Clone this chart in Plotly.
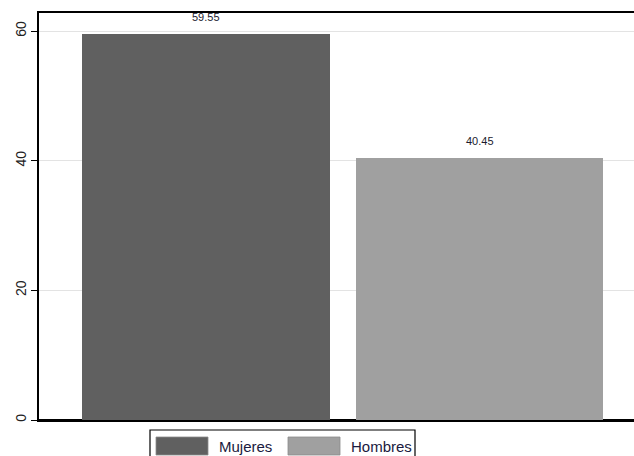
import plotly.graph_objects as go

categories = ["Mujeres", "Hombres"]
values = [59.55, 40.45]
value_labels = ["59.55", "40.45"]
colors = ["#606060", "#a0a0a0"]
y_ticks = [0, 20, 40, 60]

W, H = 634, 456
PL, PT, PB = 39, 13, 420  # plot left / top / bottom in window pixels
PW, PH = W - PL, PB - PT

def px_x(x):
    return (x - PL) / PW

def px_y(y):
    return (PB - y) / PH

fig = go.Figure()
for i, (cat, v) in enumerate(zip(categories, values)):
    fig.add_trace(go.Bar(x=[i], y=[v], name=cat, width=0.905,
                         marker=dict(color=colors[i], line=dict(width=0)),
                         showlegend=False, hoverinfo="skip"))
    fig.add_annotation(x=i, y=v, text=value_labels[i], showarrow=False,
                       yanchor="bottom", yshift=9,
                       font=dict(family="Liberation Sans, Arial", size=11, color="#1a1a2e"))

fig.update_layout(
    width=W, height=H,
    margin=dict(l=PL, r=0, t=PT, b=H - PB, autoexpand=False),
    plot_bgcolor="white", paper_bgcolor="white",
    xaxis=dict(range=[-0.608, 1.564], showticklabels=False, ticks="",
               showgrid=False, showline=True, linecolor="black", linewidth=1.5,
               mirror=True, zeroline=False, automargin=False),
    yaxis=dict(range=[0, 62.8], tickvals=y_ticks, ticktext=[str(t) for t in y_ticks],
               tickangle=-90, ticks="outside", ticklen=6, tickcolor="black",
               showline=True, linecolor="black", linewidth=1.5,
               gridcolor="#e3e3e3", gridwidth=1, automargin=False,
               zeroline=True, zerolinecolor="black", zerolinewidth=2.5,
               tickfont=dict(family="Liberation Sans, Arial", size=14, color="#222222")),
    bargap=0,
)

# custom legend (Stata style)
fig.add_shape(type="rect", xref="paper", yref="paper",
              x0=px_x(150), x1=px_x(415), y0=px_y(470), y1=px_y(430),
              line=dict(color="black", width=1.2), fillcolor="white", layer="above")
legend_swatches = [(156, 208, 217), (288, 340, 349)]
for (sx0, sx1, tx), cat, col in zip(legend_swatches, categories, colors):
    fig.add_shape(type="rect", xref="paper", yref="paper",
                  x0=px_x(sx0), x1=px_x(sx1), y0=px_y(455), y1=px_y(437),
                  line=dict(color="#8a8a8a", width=0.8), fillcolor=col, layer="above")
    fig.add_annotation(xref="paper", yref="paper", x=px_x(tx), y=px_y(446),
                       text=cat, showarrow=False, xanchor="left", yanchor="middle",
                       font=dict(family="Liberation Sans, Arial", size=15, color="#1a1a40"))

fig.write_html("out.html", config={"displayModeBar": False},
               post_script="document.body.style.margin='0';document.body.style.overflow='hidden';")
